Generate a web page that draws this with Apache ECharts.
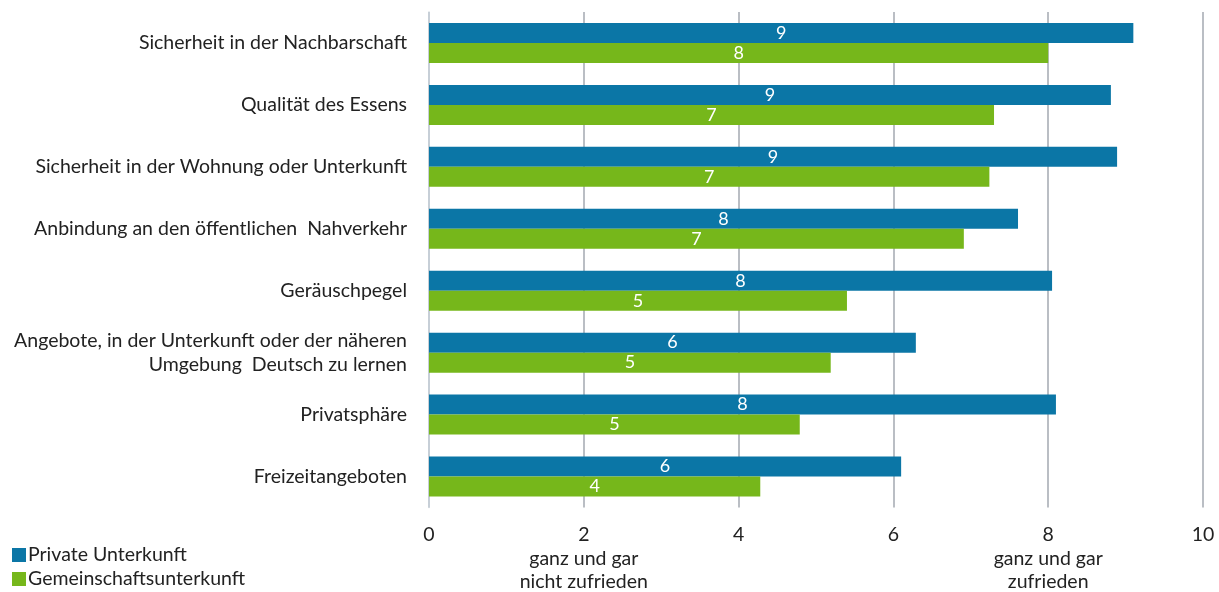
<!DOCTYPE html>
<html>
<head>
<meta charset="utf-8">
<script src="https://cdn.jsdelivr.net/npm/echarts@6/dist/echarts.min.js"></script>
<style>html,body{margin:0;padding:0;background:#fff}#c{width:1219px;height:592px}</style>
</head>
<body>
<div id="c"></div>
<script>
const categories = [
  "Sicherheit in der Nachbarschaft",
  "Qualität des Essens",
  "Sicherheit in der Wohnung oder Unterkunft",
  "Anbindung an den öffentlichen  Nahverkehr",
  "Geräuschpegel",
  "Angebote, in der Unterkunft oder der näheren\nUmgebung  Deutsch zu lernen",
  "Privatsphäre",
  "Freizeitangeboten"
];
const privateValues = [9.10, 8.81, 8.89, 7.61, 8.05, 6.29, 8.10, 6.10];
const gemeinschaftValues = [8.00, 7.30, 7.24, 6.91, 5.40, 5.19, 4.79, 4.28];
const seriesNames = ["Private Unterkunft", "Gemeinschaftsunterkunft"];
const tickNotes = {2: "ganz und gar\nnicht zufrieden", 8: "ganz und gar\nzufrieden"};

const FONT = "Lato";
const FS = 19.5;
const chart = echarts.init(document.getElementById('c'), null, {renderer: 'canvas'});
const labelCfg = {
  show: true, position: 'inside', color: '#fff', fontFamily: FONT, fontSize: 18,
  formatter: p => Math.round(p.value)
};
chart.setOption({
  animation: false,
  textStyle: {fontFamily: FONT},
  grid: {left: 429, right: 16, top: 12, bottom: 84, containLabel: false},
  legend: {
    orient: 'vertical', left: 12, top: 545, padding: 0, itemWidth: 14, itemHeight: 14, itemGap: 4,
    icon: 'rect', textStyle: {fontFamily: FONT, fontSize: FS, color: '#222', padding: [0,0,0,-3]},
    data: seriesNames
  },
  xAxis: {
    type: 'value', min: 0, max: 10, interval: 2,
    axisLine: {show: false}, axisTick: {show: false},
    splitLine: {show: true, lineStyle: {color: '#a3a8b0', width: 1.5}},
    axisLabel: {
      margin: 15, color: '#222', fontFamily: FONT, fontSize: FS,
      formatter: v => tickNotes[v] ? '{a|' + v + '}\n' + tickNotes[v].split('\n').map(s => '{b|' + s + '}').join('\n') : '{a|' + v + '}',
      rich: {
        a: {fontFamily: FONT, fontSize: FS, color: '#222', lineHeight: 25},
        b: {fontFamily: FONT, fontSize: FS, color: '#222', lineHeight: 23}
      },
      verticalAlign: 'top'
    }
  },
  yAxis: {
    type: 'category', data: categories, inverse: true,
    axisLine: {show: true, lineStyle: {color: '#cdd6de', width: 1.5}}, axisTick: {show: false},
    axisLabel: {margin: 22, color: '#222', fontFamily: FONT, fontSize: FS, lineHeight: 24, align: 'right'}
  },
  series: [
    {name: seriesNames[0], type: 'bar', data: privateValues, barWidth: 20, barGap: '0%',
     itemStyle: {color: '#0b76a6'}, label: labelCfg},
    {name: seriesNames[1], type: 'bar', data: gemeinschaftValues, barWidth: 20,
     itemStyle: {color: '#76b71b'}, label: labelCfg}
  ]
});
</script>
</body>
</html>
